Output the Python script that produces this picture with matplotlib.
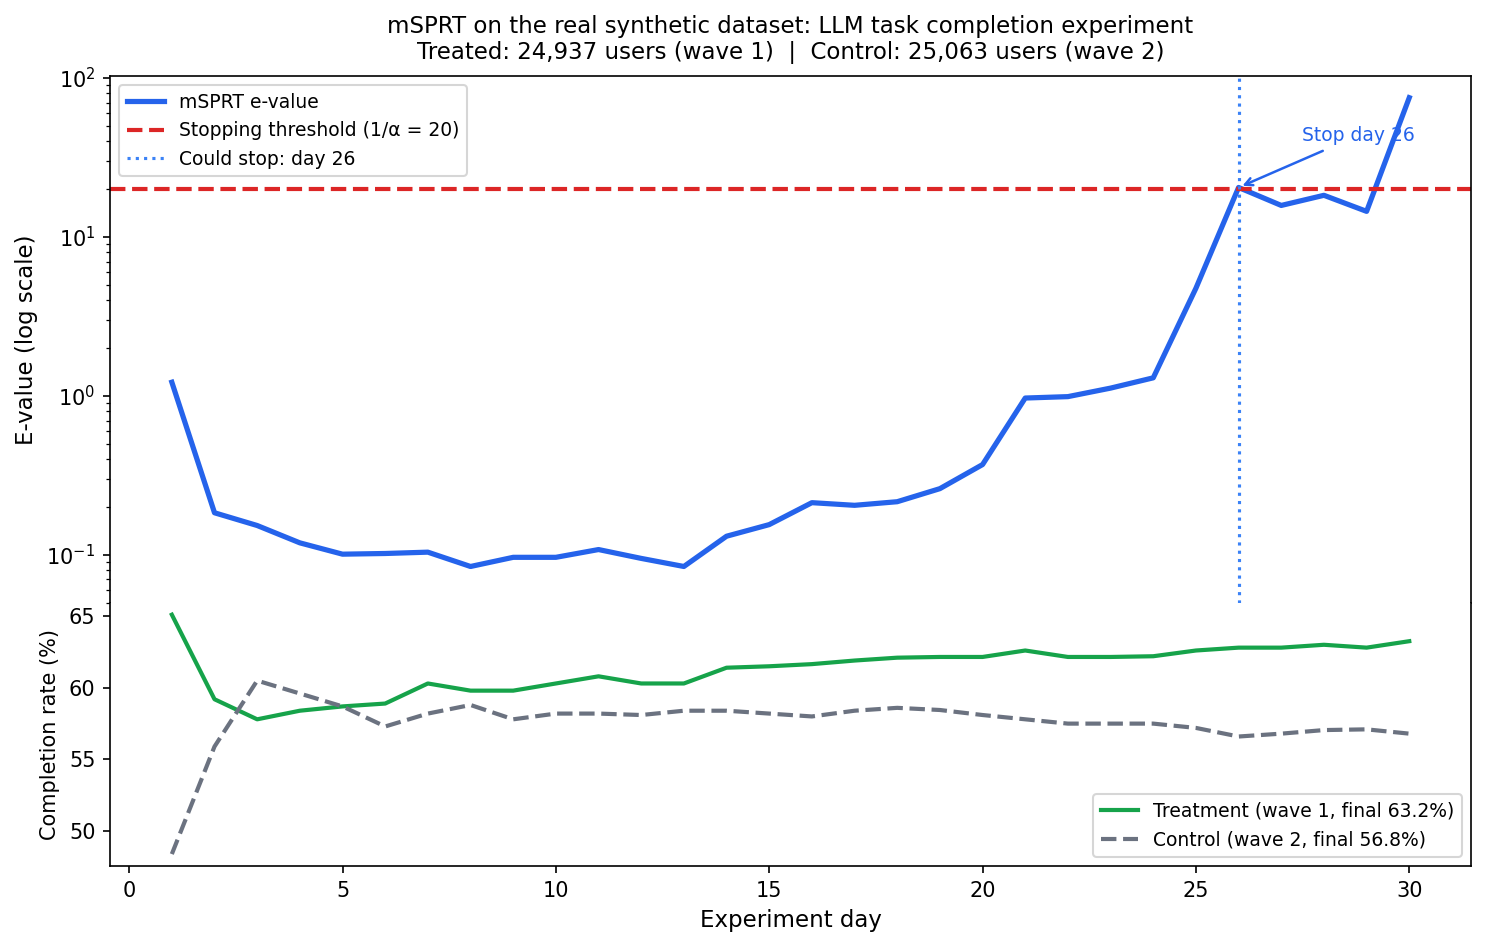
import numpy as np
import matplotlib.pyplot as plt

days = np.arange(1, 31)
evalue = [1.22, 0.184, 0.153, 0.119, 0.101, 0.102, 0.104, 0.0845, 0.0965, 0.0965,
          0.108, 0.095, 0.0845, 0.131, 0.155, 0.213, 0.205, 0.216, 0.261, 0.37,
          0.97, 0.99, 1.12, 1.30, 4.76, 20.5, 15.8, 18.3, 14.5, 75.3]
treat_rate = [65.1, 59.2, 57.8, 58.4, 58.7, 58.9, 60.3, 59.8, 59.8, 60.3,
              60.8, 60.3, 60.3, 61.4, 61.5, 61.65, 61.9, 62.1, 62.15, 62.15,
              62.6, 62.15, 62.15, 62.2, 62.6, 62.8, 62.8, 63.0, 62.8, 63.25]
ctrl_rate = [48.4, 55.9, 60.5, 59.6, 58.7, 57.3, 58.2, 58.8, 57.8, 58.2,
             58.2, 58.1, 58.4, 58.4, 58.2, 58.0, 58.4, 58.6, 58.45, 58.1,
             57.8, 57.5, 57.5, 57.5, 57.2, 56.6, 56.8, 57.05, 57.1, 56.8]
threshold = 20
stop_day = 26

fig, (ax1, ax2) = plt.subplots(2, 1, sharex=True, figsize=(1486/150, 947/150), dpi=150,
                               gridspec_kw={'height_ratios': [2, 1], 'hspace': 0})
fig.subplots_adjust(left=0.074, right=0.990, top=0.9197, bottom=0.0855)

# top: e-value
ax1.plot(days, evalue, color='#2563eb', lw=2.5, label='mSPRT e-value')
ax1.axhline(threshold, color='#dc2626', ls='--', lw=2, label='Stopping threshold (1/α = 20)')
ax1.axvline(stop_day, color='#3b82f6', ls=':', lw=1.5, label=f'Could stop: day {stop_day}')
ax1.annotate(f'Stop day {stop_day}', xy=(stop_day, evalue[stop_day - 1]), xytext=(28.8, 43.5),
             ha='center', va='center', color='#2563eb', fontsize=9,
             arrowprops=dict(arrowstyle='->', color='#2563eb', lw=1.2))
ax1.set_yscale('log')
ax1.set_ylim(0.05, 103)
ax1.set_ylabel('E-value (log scale)', fontsize=11)
ax1.legend(loc='upper left', fontsize=9)
ax1.spines['bottom'].set_visible(False)
ax1.tick_params(axis='x', bottom=False)
ax1.set_title('mSPRT on the real synthetic dataset: LLM task completion experiment\n'
              'Treated: 24,937 users (wave 1)  |  Control: 25,063 users (wave 2)',
              fontsize=11, pad=8)

# bottom: completion rates
ax2.plot(days, treat_rate, color='#16a34a', lw=2, label='Treatment (wave 1, final 63.2%)')
ax2.plot(days, ctrl_rate, color='#6b7280', ls='--', lw=2, label='Control (wave 2, final 56.8%)')
ax2.spines['top'].set_visible(False)
ax2.set_ylabel('Completion rate (%)', fontsize=10)
ax2.set_xlabel('Experiment day', fontsize=11)
ax2.legend(loc='lower right', fontsize=9)

plt.savefig('out.png', dpi=150)
